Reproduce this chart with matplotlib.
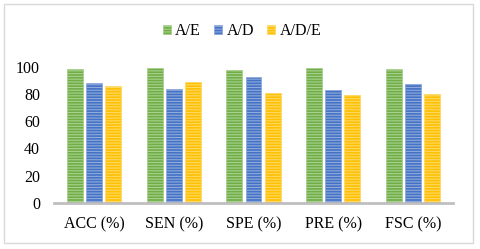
import matplotlib
matplotlib.use("Agg")
import matplotlib.pyplot as plt
import numpy as np
from matplotlib.patches import Rectangle, Patch

plt.rcParams['hatch.linewidth'] = 0.8
plt.rcParams['font.family'] = ['Liberation Serif', 'DejaVu Serif']

categories = ["ACC (%)", "SEN (%)", "SPE (%)", "PRE (%)", "FSC (%)"]
series_names = ["A/E", "A/D", "A/D/E"]
ae = [98.0, 99.3, 97.8, 99.3, 98.0]
ad = [87.8, 83.9, 92.7, 82.5, 87.4]
ade = [86.1, 89.0, 80.8, 79.0, 79.6]
yticks = [0, 20, 40, 60, 80, 100]

colors = ["#70AD47", "#4472C4", "#FFC000"]
stripe = ["#A9D18E", "#8FAADC", "#FFD966"]
fs = 11.5

fig = plt.figure(figsize=(4.8, 2.49), dpi=100)
fig.patches.append(Rectangle((4/480, 1-243/249), 469/480, 239/249, transform=fig.transFigure,
                             fill=False, edgecolor="#D9D9D9", linewidth=1))
ax = fig.add_axes([54/480, 46/249, 399/480, 150/249])

x = np.arange(len(categories))
w = 0.2
step = 0.24
for i, (vals, name) in enumerate(zip([ae, ad, ade], series_names)):
    ax.bar(x + (i-1)*step, vals, w, color=colors[i], edgecolor=stripe[i],
           hatch='------', linewidth=0.6, label=name)

ax.set_xlim(-0.5, len(categories)-0.5)
ax.set_ylim(0, 110)
ax.set_yticks(yticks)
ax.set_xticks(x)
ax.set_xticklabels(categories, fontsize=fs)
ax.tick_params(axis='both', length=0, labelsize=fs)
ax.tick_params(axis='y', pad=10)
ax.tick_params(axis='x', pad=10)
for s in ['top', 'right', 'left']:
    ax.spines[s].set_visible(False)
ax.spines['bottom'].set_color('#BFBFBF')
ax.spines['bottom'].set_linewidth(2)

lh = [Patch(facecolor=colors[i], edgecolor=stripe[i], hatch='------', linewidth=0.6) for i in range(3)]
fig.legend(lh, series_names, loc='center', bbox_to_anchor=(242/480, 1-31/249), ncol=3,
           frameon=False, fontsize=fs, handlelength=0.5, handleheight=0.5,
           handletextpad=0.3, columnspacing=0.8, borderpad=0)

fig.savefig("out.png", dpi=100)
